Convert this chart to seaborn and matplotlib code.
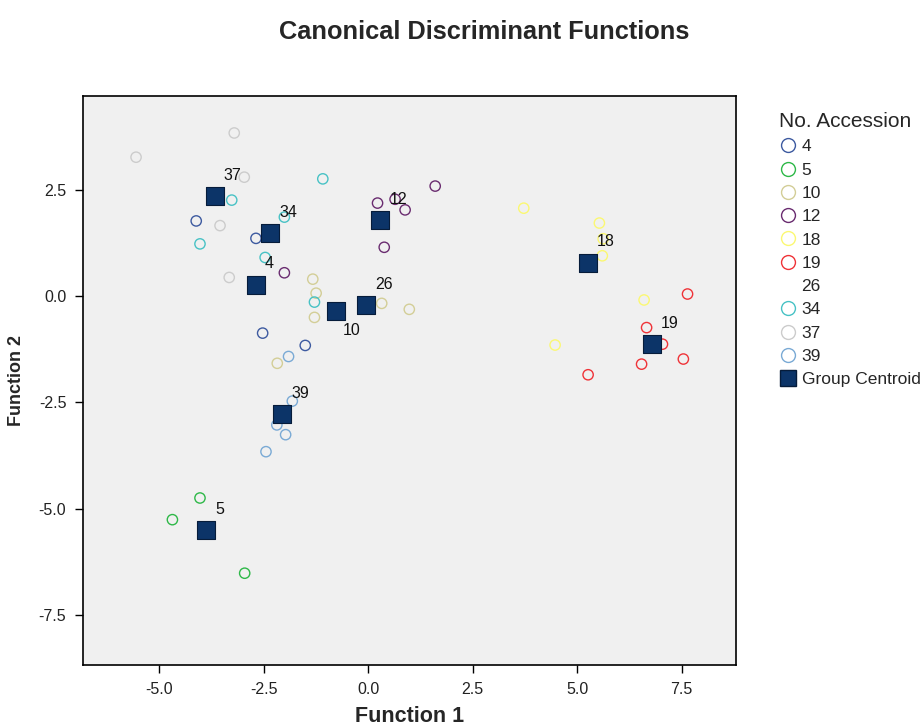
import matplotlib
matplotlib.use("Agg")
import matplotlib.pyplot as plt
from matplotlib.lines import Line2D
import seaborn as sns
import pandas as pd

# ---------------- data ----------------
groups = ["4", "5", "10", "12", "18", "19", "26", "34", "37", "39"]
group_colors = ["#3d5aa0", "#2eb848", "#d3ce97", "#6a2c70", "#fbf873",
                "#ef3338", "#ffffff", "#48c2c5", "#cccccc", "#7aaad5"]

point_group = (["4"] * 4 + ["5"] * 3 + ["10"] * 6 + ["12"] * 6 + ["18"] * 6 +
               ["19"] * 6 + ["26"] * 1 + ["34"] * 6 + ["37"] * 5 + ["39"] * 5)
point_f1 = [-4.12, -2.69, -2.53, -1.51,
            -4.03, -4.69, -2.96,
            -1.33, -1.25, -1.29, -2.18, 0.98, 0.32,
            1.60, 0.22, 0.64, 0.88, 0.38, -2.01,
            3.72, 5.53, 5.62, 5.60, 6.60, 4.47,
            7.64, 6.66, 7.04, 6.54, 7.54, 5.26,
            -0.06,
            -1.09, -3.27, -2.01, -4.03, -2.47, -1.29,
            -5.56, -3.21, -2.97, -3.55, -3.33,
            -1.91, -1.82, -2.19, -1.98, -2.45]
point_f2 = [1.77, 1.36, -0.87, -1.16,
            -4.75, -5.26, -6.52,
            0.40, 0.07, -0.50, -1.58, -0.31, -0.17,
            2.59, 2.19, 2.28, 2.03, 1.15, 0.55,
            2.07, 1.72, 1.35, 0.95, -0.09, -1.15,
            0.05, -0.74, -1.13, -1.60, -1.48, -1.85,
            -0.22,
            2.76, 2.26, 1.86, 1.23, 0.91, -0.14,
            3.27, 3.84, 2.80, 1.66, 0.44,
            -1.42, -2.47, -3.03, -3.26, -3.66]

centroid_f1 = [-2.70, -3.88, -0.78, 0.29, 5.26, 6.78, -0.06, -2.35, -3.68, -2.06]
centroid_f2 = [0.27, -5.50, -0.36, 1.79, 0.79, -1.13, -0.22, 1.48, 2.36, -2.77]

x_ticks = [-5.0, -2.5, 0.0, 2.5, 5.0, 7.5]
y_ticks = [2.5, 0.0, -2.5, -5.0, -7.5]

title = "Canonical Discriminant Functions"
x_label = "Function 1"
y_label = "Function 2"
legend_title = "No. Accession"
centroid_label = "Group Centroid"

# ---------------- style ----------------
sns.set_theme(style="white")
plt.rcParams["font.family"] = ["Liberation Sans", "DejaVu Sans"]

points = pd.DataFrame({"group": point_group, "f1": point_f1, "f2": point_f2})
cents = pd.DataFrame({"group": groups, "f1": centroid_f1, "f2": centroid_f2})
color_of = dict(zip(groups, group_colors))

fig = plt.figure(figsize=(9.23, 7.27), dpi=100)
fig.patch.set_facecolor("white")
ax = fig.add_axes([83 / 923, 1 - 665 / 727, (736 - 83) / 923, (665 - 96) / 727])
ax.set_facecolor("#f0f0f0")

for g in groups:
    sub = points[points["group"] == g]
    c = color_of[g]
    sns.scatterplot(data=sub, x="f1", y="f2", ax=ax, color=c,
                    facecolor="none", edgecolor=c, linewidth=1.0,
                    s=55, marker="o", legend=False, zorder=3)

centroid_color = "#0c3468"
sns.scatterplot(data=cents, x="f1", y="f2", ax=ax, marker="s", s=170,
                color=centroid_color, edgecolor="#061c3a", linewidth=0.8,
                legend=False, zorder=4)

for g, cx, cy in zip(groups, centroid_f1, centroid_f2):
    off = (5, -13.5) if g == "10" else (6.5, 15)
    ax.annotate(g, (cx, cy), xytext=off, textcoords="offset points",
                ha="left", va="center", fontsize=11.5, color="#111111", zorder=5)

ax.set_xlim(-6.83, 8.80)
ax.set_ylim(-8.68, 4.71)
ax.set_xticks(x_ticks)
ax.set_xticklabels([f"{v:.1f}" for v in x_ticks])
ax.set_yticks(y_ticks)
ax.set_yticklabels([f"{v:.1f}" for v in y_ticks])
ax.tick_params(axis="both", direction="out", length=6, width=1.0, color="black",
               labelsize=11.5, labelcolor="#222222", pad=6)
ax.tick_params(axis="x", bottom=True)
ax.tick_params(axis="y", left=True)
for sp in ax.spines.values():
    sp.set_color("black")
    sp.set_linewidth(1.2)

ax.set_xlabel(x_label, fontsize=15.5, fontweight="bold", labelpad=7)
ax.set_ylabel(y_label, fontsize=13, fontweight="bold", labelpad=10)

fig.text(484 / 923, 1 - 32 / 727, title, ha="center", va="center",
         fontsize=18.3, fontweight="bold")

handles = [Line2D([], [], linestyle="none", marker="o", markersize=10,
                  markerfacecolor="none", markeredgecolor=c, markeredgewidth=1.0)
           for c in group_colors]
handles.append(Line2D([], [], linestyle="none", marker="s", markersize=12,
                      markerfacecolor=centroid_color, markeredgecolor="#061c3a"))
labels = groups + [centroid_label]
leg = fig.legend(handles, labels, loc="upper left",
                 bbox_to_anchor=(779 / 923, 1 - 112 / 727), frameon=False,
                 title=legend_title, title_fontsize=15, fontsize=12.5,
                 labelspacing=0.47, handlelength=1.0, handletextpad=0.3,
                 borderpad=0, borderaxespad=0, alignment="left")

fig.savefig("out.png", dpi=100)
